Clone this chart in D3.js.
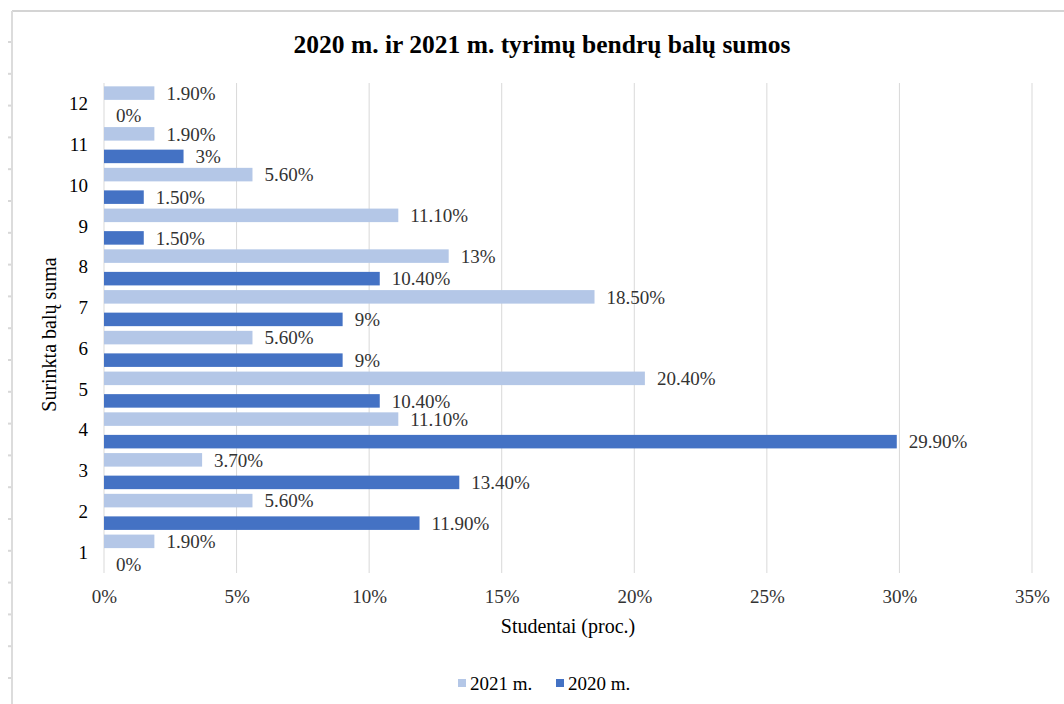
<!DOCTYPE html>
<html>
<head>
<meta charset="utf-8">
<script src="https://cdn.jsdelivr.net/npm/d3@7"></script>
<style>
  html, body { margin: 0; padding: 0; background: #fff; }
  svg { display: block; font-family: "Liberation Serif", "Times New Roman", serif; }
</style>
</head>
<body>
<svg id="chart" width="1064" height="704"></svg>
<script>
// Score sums (categories) and share of students per year, in percent
const categories = ["1", "2", "3", "4", "5", "6", "7", "8", "9", "10", "11", "12"];
const values2021 = [1.9, 5.6, 3.7, 11.1, 20.4, 5.6, 18.5, 13, 11.1, 5.6, 1.9, 1.9];
const values2020 = [0, 11.9, 13.4, 29.9, 10.4, 9, 9, 10.4, 1.5, 1.5, 3, 0];
const seriesNames = ["2021 m.", "2020 m."];
const seriesColors = ["#b4c7e7", "#4472c4"];
const xTicks = [0, 5, 10, 15, 20, 25, 30, 35];

const titleText = "2020 m. ir 2021 m. tyrimų bendrų balų sumos";
const xTitle = "Studentai (proc.)";
const yTitle = "Surinkta balų suma";

const svg = d3.select("#chart");
const W = 1064, H = 704;

// Frame: top and left border with small marks down the left edge
svg.append("line").attr("x1", 12).attr("x2", W).attr("y1", 11).attr("y2", 11)
  .attr("stroke", "#d4d4d4").attr("stroke-width", 2);
svg.append("line").attr("x1", 12).attr("x2", 12).attr("y1", 11).attr("y2", H)
  .attr("stroke", "#dcdcdc").attr("stroke-width", 2);
svg.append("g").selectAll("line").data(d3.range(42, H, 31.8)).join("line")
  .attr("x1", 8).attr("x2", 11).attr("y1", d => d).attr("y2", d => d)
  .attr("stroke", "#d8d8d8").attr("stroke-width", 2);

// Scales
const plot = { left: 104, right: 1032, top: 84, bottom: 573 };
const x = d3.scaleLinear().domain([0, 35]).range([plot.left, plot.right]);
const y0 = d3.scaleBand()
  .domain(categories.slice().reverse())
  .range([plot.top, plot.bottom])
  .paddingInner(0.115)
  .paddingOuter(0.0575);
const y1 = d3.scaleBand()
  .domain(seriesNames)
  .range([0, y0.bandwidth()])
  .paddingInner(0.4)
  .paddingOuter(0);

const fmt = v => (Number.isInteger(v) ? String(v) : v.toFixed(2)) + "%";

// Title
svg.append("text")
  .attr("x", 542).attr("y", 53)
  .attr("text-anchor", "middle")
  .attr("font-size", 25.5).attr("font-weight", "bold")
  .attr("fill", "#000")
  .text(titleText);

// Vertical gridlines
svg.append("g").selectAll("line").data(xTicks).join("line")
  .attr("x1", d => x(d)).attr("x2", d => x(d))
  .attr("y1", plot.top - 1).attr("y2", plot.bottom)
  .attr("stroke", "#d9d9d9").attr("stroke-width", 1);

// X axis tick labels
const xAxis = d3.axisBottom(x).tickValues(xTicks).tickFormat(d => d + "%").tickSize(0).tickPadding(0);
const gx = svg.append("g").attr("transform", `translate(0,${plot.bottom + 16})`).call(xAxis);
gx.select(".domain").remove();
gx.selectAll("text")
  .attr("font-family", "Liberation Serif, Times New Roman, serif")
  .attr("font-size", 19).attr("fill", "#333").attr("dy", "0.71em");

// Y axis category labels
const yAxis = d3.axisLeft(y0).tickSize(0).tickPadding(0);
const gy = svg.append("g").attr("transform", `translate(88,0)`).call(yAxis);
gy.select(".domain").remove();
gy.selectAll("text")
  .attr("font-family", "Liberation Serif, Times New Roman, serif")
  .attr("font-size", 19).attr("fill", "#000");

// Bars and value labels
const rows = categories.map((c, i) => ({ cat: c, vals: [values2021[i], values2020[i]] }));
const groups = svg.append("g").selectAll("g").data(rows).join("g")
  .attr("transform", d => `translate(0,${y0(d.cat)})`);

groups.selectAll("rect")
  .data(d => d.vals.map((v, k) => ({ name: seriesNames[k], v, k })))
  .join("rect")
  .attr("x", x(0))
  .attr("y", d => y1(d.name))
  .attr("width", d => x(d.v) - x(0))
  .attr("height", y1.bandwidth())
  .attr("fill", d => seriesColors[d.k]);

groups.selectAll("text")
  .data(d => d.vals.map((v, k) => ({ name: seriesNames[k], v, k })))
  .join("text")
  .attr("x", d => x(d.v) + 12)
  .attr("y", d => y1(d.name) + y1.bandwidth() / 2)
  .attr("dy", "0.35em")
  .attr("font-size", 19).attr("fill", "#333")
  .text(d => fmt(d.v));

// Axis titles
svg.append("text")
  .attr("x", (plot.left + plot.right) / 2).attr("y", 633)
  .attr("text-anchor", "middle")
  .attr("font-size", 20).attr("fill", "#000")
  .text(xTitle);

svg.append("text")
  .attr("transform", `translate(56,${(plot.top + plot.bottom) / 2 + 6}) rotate(-90)`)
  .attr("text-anchor", "middle")
  .attr("font-size", 20).attr("fill", "#000")
  .text(yTitle);

// Legend
const legendItems = [
  { name: seriesNames[0], color: seriesColors[0], x: 458 },
  { name: seriesNames[1], color: seriesColors[1], x: 556 }
];
const lg = svg.append("g").selectAll("g").data(legendItems).join("g")
  .attr("transform", d => `translate(${d.x},683)`);
lg.append("rect").attr("x", 0).attr("y", -4).attr("width", 8).attr("height", 8)
  .attr("fill", d => d.color);
lg.append("text").attr("x", 12).attr("y", 0).attr("dy", "0.35em")
  .attr("font-size", 19).attr("fill", "#000")
  .text(d => d.name);
</script>
</body>
</html>
